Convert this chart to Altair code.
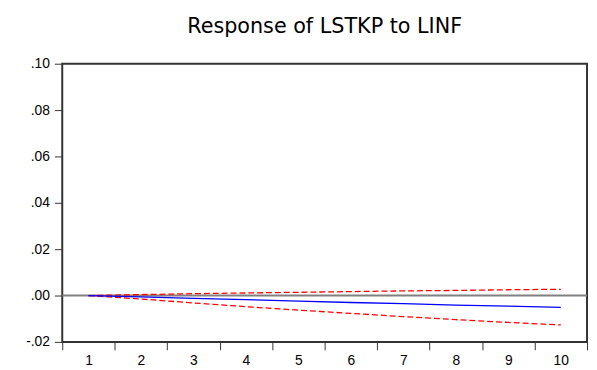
import altair as alt
import pandas as pd

periods = [1, 2, 3, 4, 5, 6, 7, 8, 9, 10]
response = [0.0, -0.0006, -0.0012, -0.0018, -0.0024, -0.0030, -0.0035, -0.0041, -0.0046, -0.0051]
lower = [0.0, -0.0015, -0.0032, -0.0048, -0.0063, -0.0077, -0.0091, -0.0104, -0.0116, -0.0127]
upper = [0.0, 0.0004, 0.0008, 0.0011, 0.0014, 0.0017, 0.0020, 0.0022, 0.0025, 0.0027]
y_ticks = [-0.02, 0.0, 0.02, 0.04, 0.06, 0.08, 0.10]
title_text = "Response of LSTKP to LINF"

df = pd.DataFrame({"period": periods, "response": response, "lower": lower, "upper": upper})

x_enc = alt.X(
    "period:O",
    bandPosition=0.5,
    scale=alt.Scale(type="band", paddingInner=0, paddingOuter=0),
    axis=alt.Axis(
        title=None, labelAngle=0, tickBand="extent", domain=False,
        ticks=True, tickSize=8, tickColor="#333333", labelPadding=4,
        labelFont="Liberation Sans", labelFontSize=14, labelColor="#000000",
    ),
)

label_expr = ("datum.value < 0 ? '-' + replace(format(abs(datum.value), '.2f'), '0.', '.') "
              ": replace(format(datum.value, '.2f'), '0.', '.')")

y_scale = alt.Scale(domain=[-0.02, 0.10], nice=False, zero=False)
y_axis = alt.Axis(
    title=None, values=y_ticks, labelExpr=label_expr, grid=False, domain=False,
    tickSize=8, tickColor="#333333", labelPadding=5,
    labelFont="Liberation Sans", labelFontSize=14, labelColor="#000000",
)

base = alt.Chart(df)

zero_line = alt.Chart(pd.DataFrame({"z": [0.0]})).mark_rule(
    color="#808080", strokeWidth=2
).encode(y=alt.Y("z:Q", scale=y_scale, axis=y_axis))

resp_line = base.mark_line(color="#0000FF", strokeWidth=1.3).encode(
    x=x_enc, y=alt.Y("response:Q", scale=y_scale, axis=y_axis)
)
lower_line = base.mark_line(color="#FF0000", strokeWidth=1.3, strokeDash=[6, 3]).encode(
    x=x_enc, y=alt.Y("lower:Q", scale=y_scale, axis=y_axis)
)
upper_line = base.mark_line(color="#FF0000", strokeWidth=1.3, strokeDash=[6, 3]).encode(
    x=x_enc, y=alt.Y("upper:Q", scale=y_scale, axis=y_axis)
)

chart = alt.layer(zero_line, upper_line, lower_line, resp_line).properties(
    width=532,
    height=282,
    background="#FFFFFF",
    title=alt.TitleParams(
        text=title_text, font="DejaVu Sans", fontSize=21, fontWeight="normal",
        color="#000000", anchor="middle", frame="group", baseline="alphabetic", offset=3,
    ),
    autosize=alt.AutoSizeParams(type="none"),
    padding={"left": 55, "top": 54, "right": 2, "bottom": 26},
).configure_view(
    stroke="#333333", strokeWidth=2
)

chart.save("out.html", embed_options={"renderer": "svg", "actions": False})
